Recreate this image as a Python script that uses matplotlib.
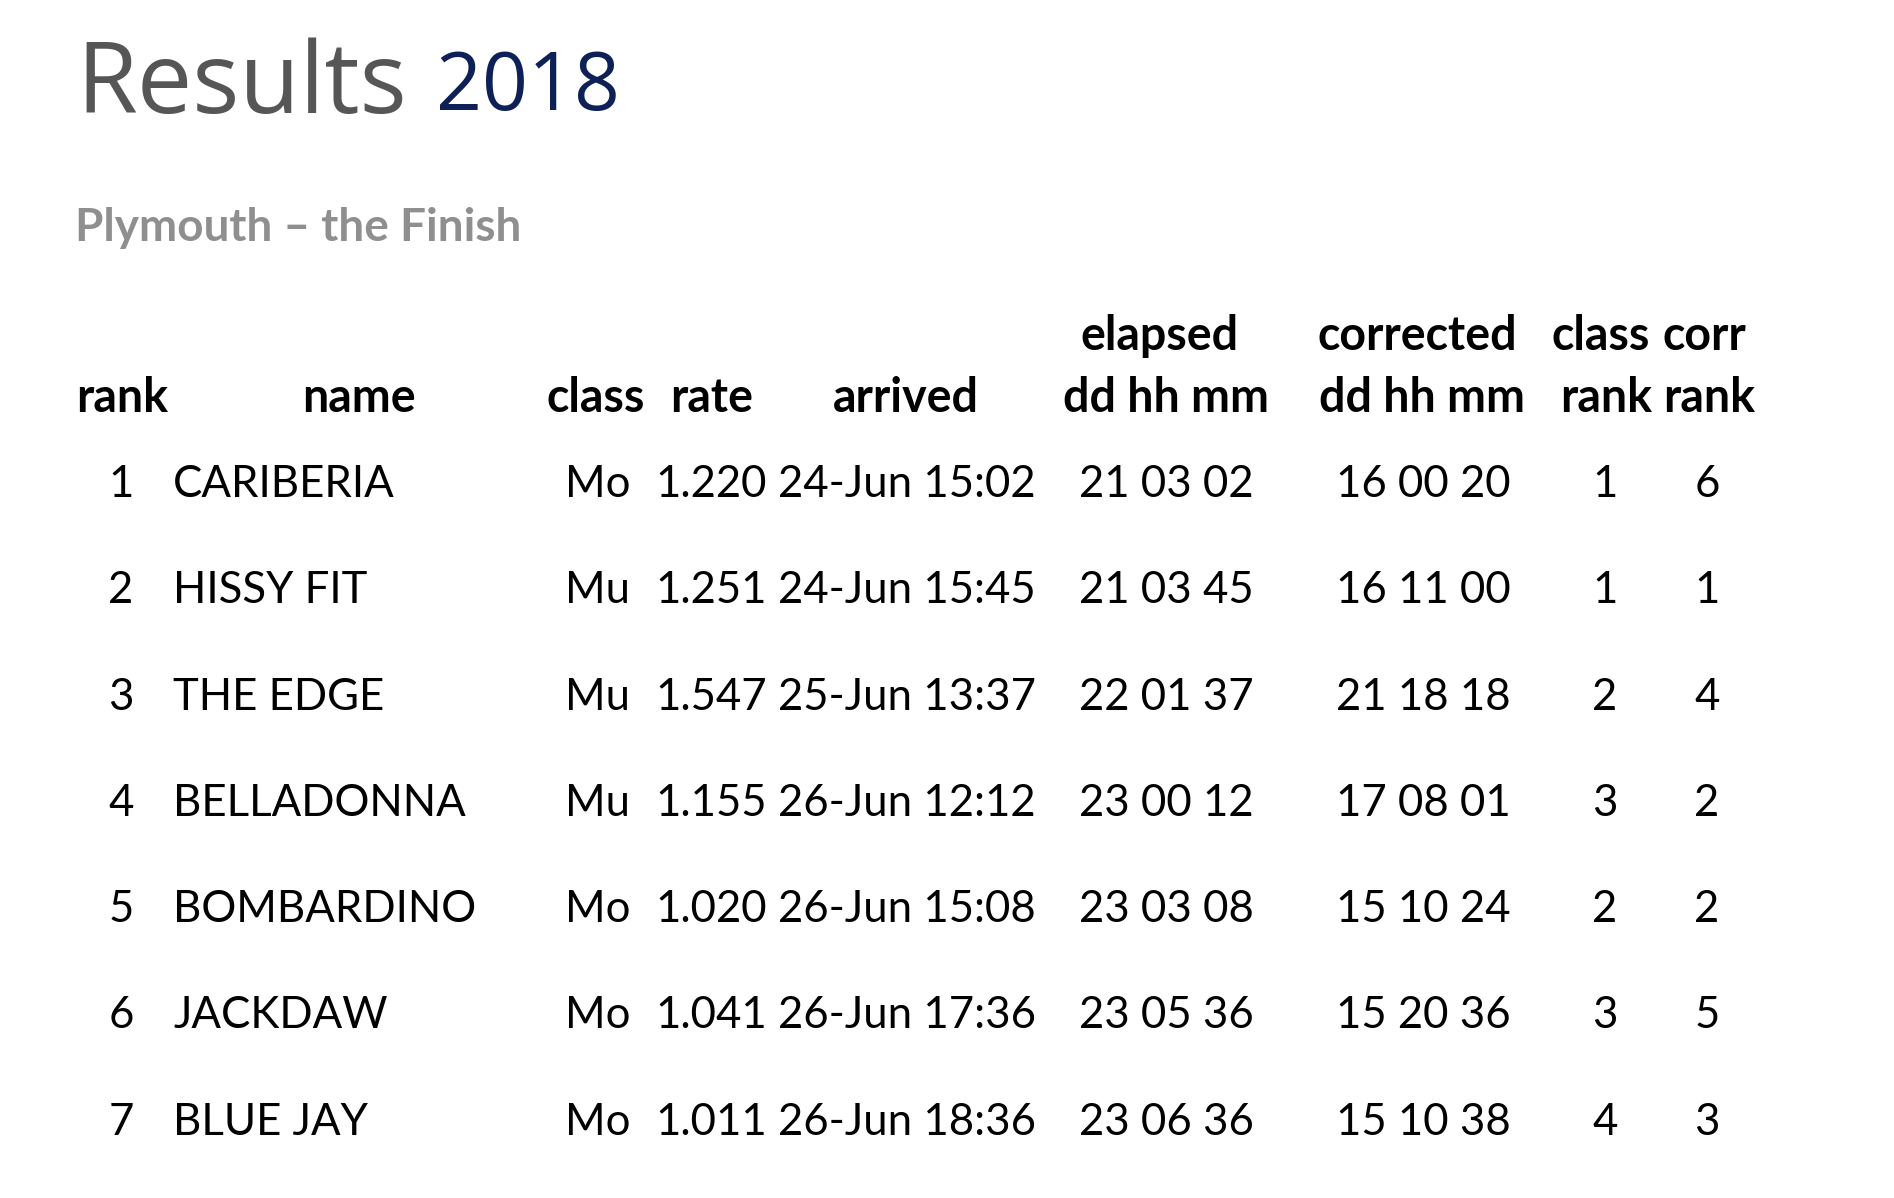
import matplotlib
matplotlib.use('Agg')
from matplotlib import pyplot as plt

# table data
ranks = [1, 2, 3, 4, 5, 6, 7]
names = ['CARIBERIA', 'HISSY FIT', 'THE EDGE', 'BELLADONNA',
         'BOMBARDINO', 'JACKDAW', 'BLUE JAY']
classes = ['Mo', 'Mu', 'Mu', 'Mu', 'Mo', 'Mo', 'Mo']
rates = ['1.220', '1.251', '1.547', '1.155', '1.020', '1.041', '1.011']
arrived = ['24-Jun 15:02', '24-Jun 15:45', '25-Jun 13:37', '26-Jun 12:12',
           '26-Jun 15:08', '26-Jun 17:36', '26-Jun 18:36']
elapsed = ['21 03 02', '21 03 45', '22 01 37', '23 00 12',
           '23 03 08', '23 05 36', '23 06 36']
corrected = ['16 00 20', '16 11 00', '21 18 18', '17 08 01',
             '15 10 24', '15 20 36', '15 10 38']
class_rank = [1, 1, 2, 3, 2, 3, 4]
corr_rank = [6, 1, 4, 2, 2, 5, 3]

W, H = 1894, 1198
fig = plt.figure(figsize=(W / 100, H / 100), dpi=100)
ax = fig.add_axes([0, 0, 1, 1])
ax.set_xlim(0, W)
ax.set_ylim(H, 0)
ax.axis('off')

body = dict(family='Lato', fontsize=31.5, color='black', va='baseline')
head = dict(body, fontsize=33.5, fontweight='bold')

# title
ax.text(76, 113, 'Results', family='Open Sans', fontsize=71,
        color='#565656', va='baseline')
ax.text(436, 110, '2018', family='Open Sans', fontsize=58,
        color='#0d2157', va='baseline')
ax.text(75, 241, 'Plymouth \u2013 the Finish', family='Lato', fontsize=33,
        fontweight='bold', color='#8f8f8f', va='baseline')

# header lines
y1, y2 = 350, 412
ax.text(1160, y1, 'elapsed', ha='center', **head)
ax.text(1417, y1, 'corrected', ha='center', **head)
ax.text(1601, y1, 'class', ha='center', **head)
ax.text(1704, y1, 'corr', ha='center', **head)

ax.text(76, y2, 'rank', ha='left', **head)
ax.text(359, y2, 'name', ha='center', **head)
ax.text(547, y2, 'class', ha='left', **head)
ax.text(670, y2, 'rate', ha='left', **head)
ax.text(906, y2, 'arrived', ha='center', **head)
ax.text(1166, y2, 'dd hh mm', ha='center', **head)
ax.text(1422, y2, 'dd hh mm', ha='center', **head)
ax.text(1606, y2, 'rank', ha='center', **head)
ax.text(1709, y2, 'rank', ha='center', **head)

# rows
y0, dy = 497, 106.3
for i in range(len(ranks)):
    y = y0 + i * dy
    ax.text(121, y, str(ranks[i]), ha='center', **body)
    ax.text(173, y, names[i], ha='left', **body)
    ax.text(565, y, classes[i], ha='left', **body)
    ax.text(655, y, rates[i], ha='left', **body)
    ax.text(778, y, arrived[i], ha='left', **body)
    ax.text(1079, y, elapsed[i], ha='left', **body)
    ax.text(1336, y, corrected[i], ha='left', **body)
    ax.text(1605, y, str(class_rank[i]), ha='center', **body)
    ax.text(1707, y, str(corr_rank[i]), ha='center', **body)

fig.savefig('out.png', dpi=100, facecolor='white')
